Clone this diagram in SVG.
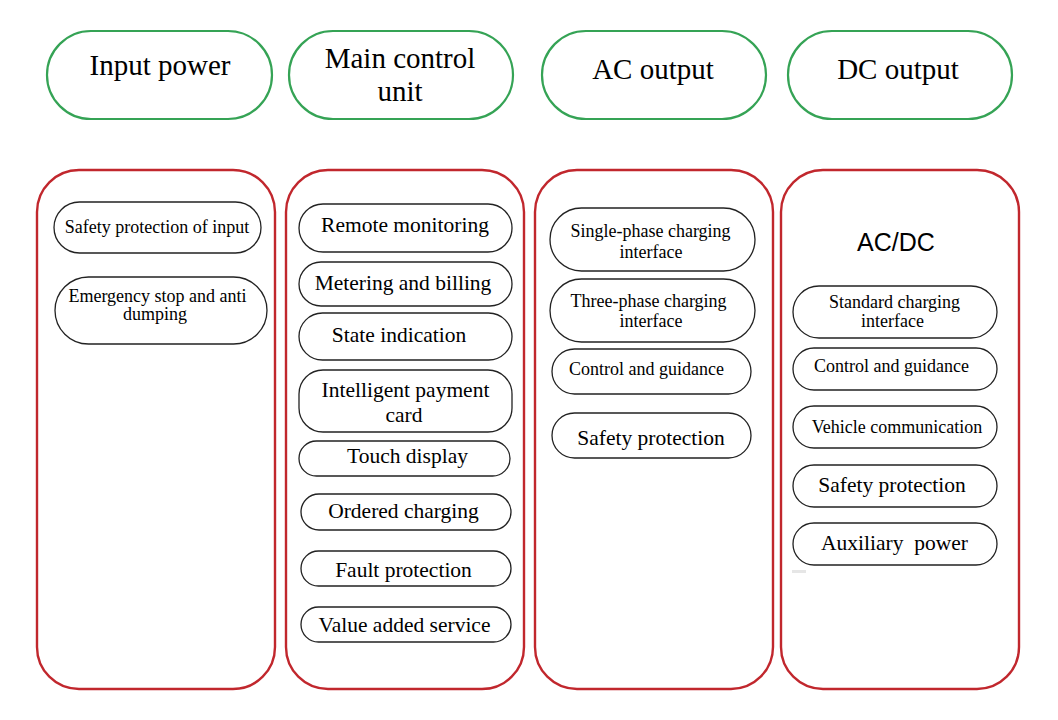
<svg xmlns="http://www.w3.org/2000/svg" width="1058" height="720" viewBox="0 0 1058 720">
<style>
.bg{fill:#ffffff}
.head{fill:#ffffff;stroke:#35A355;stroke-width:2.2}
.panel{fill:#ffffff;stroke:#C1272D;stroke-width:2.4}
.item{fill:#ffffff;stroke:#222222;stroke-width:1.3}
text{font-family:"Liberation Serif","Times New Roman",serif;fill:#000000;text-anchor:middle}
.t1{font-size:29px}
.t2{font-size:21.5px}
.t3{font-size:18px}
.sans{font-family:"Liberation Sans",Arial,sans-serif;font-size:25px}
</style>
<rect class="bg" x="0" y="0" width="1058" height="720"/>
<g id="connectors"></g>

<g id="head-input">
<rect class="head" x="47" y="31" width="225" height="88" rx="44" ry="44"/>
<text class="t1" x="160" y="75">Input power</text>
</g>
<g id="head-main">
<rect class="head" x="289" y="31" width="224" height="88" rx="44" ry="44"/>
<text class="t1" x="400" y="68">Main control</text>
<text class="t1" x="400" y="101">unit</text>
</g>
<g id="head-ac">
<rect class="head" x="542" y="31" width="224" height="88" rx="44" ry="44"/>
<text class="t1" x="653" y="79">AC output</text>
</g>
<g id="head-dc">
<rect class="head" x="788" y="31" width="224" height="88" rx="44" ry="44"/>
<text class="t1" x="898" y="79">DC output</text>
</g>

<g id="panel-input">
<rect class="panel" x="37" y="170" width="238" height="519" rx="42" ry="42"/>
</g>
<g id="panel-main">
<rect class="panel" x="286" y="170" width="238" height="519" rx="42" ry="42"/>
</g>
<g id="panel-ac">
<rect class="panel" x="535" y="170" width="238" height="519" rx="42" ry="42"/>
</g>
<g id="panel-dc">
<rect class="panel" x="781" y="170" width="238" height="519" rx="42" ry="42"/>
<text class="sans" x="896" y="251">AC/DC</text>
</g>

<g id="in-safety">
<rect class="item" x="54" y="202" width="207" height="51" rx="25.5"/>
<text class="t3" x="157" y="233">Safety protection of input</text>
</g>
<g id="in-emergency">
<rect class="item" x="55" y="277" width="212" height="67" rx="33.5"/>
<text class="t3" x="157.5" y="302">Emergency stop and anti</text>
<text class="t3" x="155" y="320">dumping</text>
</g>

<g id="mc-remote">
<rect class="item" x="299" y="204" width="213" height="48" rx="24"/>
<text class="t2" x="405" y="232">Remote monitoring</text>
</g>
<g id="mc-metering">
<rect class="item" x="299" y="262" width="213" height="44" rx="22"/>
<text class="t2" x="403" y="290">Metering and billing</text>
</g>
<g id="mc-state">
<rect class="item" x="299" y="313" width="213" height="47" rx="23.5"/>
<text class="t2" x="399" y="342">State indication</text>
</g>
<g id="mc-payment">
<rect class="item" x="299" y="370" width="213" height="62" rx="24"/>
<text class="t2" x="405.5" y="397">Intelligent payment</text>
<text class="t2" x="404" y="422">card</text>
</g>
<g id="mc-touch">
<rect class="item" x="299" y="441" width="211" height="35" rx="17.5"/>
<text class="t2" x="407.5" y="463">Touch display</text>
</g>
<g id="mc-ordered">
<rect class="item" x="301" y="494" width="210" height="36" rx="18"/>
<text class="t2" x="403.5" y="518">Ordered charging</text>
</g>
<g id="mc-fault">
<rect class="item" x="301" y="551" width="210" height="35" rx="17.5"/>
<text class="t2" x="403.5" y="577">Fault protection</text>
</g>
<g id="mc-value">
<rect class="item" x="301" y="607" width="210" height="35" rx="17.5"/>
<text class="t2" x="404.5" y="632">Value added service</text>
</g>

<g id="ac-single">
<rect class="item" x="550" y="208" width="205" height="63" rx="31.5"/>
<text class="t3" x="650.5" y="237">Single-phase charging</text>
<text class="t3" x="651" y="258">interface</text>
</g>
<g id="ac-three">
<rect class="item" x="550" y="279" width="205" height="63" rx="31.5"/>
<text class="t3" x="648.5" y="307">Three-phase charging</text>
<text class="t3" x="651" y="327">interface</text>
</g>
<g id="ac-control">
<rect class="item" x="552" y="349" width="199" height="45" rx="22.5"/>
<text class="t3" x="646.5" y="375">Control and guidance</text>
</g>
<g id="ac-safety">
<rect class="item" x="552" y="413" width="199" height="45" rx="22.5"/>
<text class="t2" x="651" y="445">Safety protection</text>
</g>

<g id="dc-standard">
<rect class="item" x="793" y="286" width="204" height="52" rx="26"/>
<text class="t3" x="894.5" y="308">Standard charging</text>
<text class="t3" x="892.5" y="327">interface</text>
</g>
<g id="dc-control">
<rect class="item" x="793" y="348" width="204" height="42" rx="21"/>
<text class="t3" x="891.5" y="372">Control and guidance</text>
</g>
<g id="dc-vehicle">
<rect class="item" x="793" y="406" width="204" height="42" rx="21"/>
<text class="t3" x="897" y="433">Vehicle communication</text>
</g>
<g id="dc-safety">
<rect class="item" x="793" y="465" width="204" height="42" rx="21"/>
<text class="t2" x="892" y="492">Safety protection</text>
</g>
<g id="dc-aux">
<rect class="item" x="793" y="523" width="204" height="42" rx="21"/>
<text class="t2" x="894.5" y="550" xml:space="preserve">Auxiliary  power</text>
</g>
<rect x="792" y="570" width="14" height="3" fill="#e6e6e6"/>
</svg>
